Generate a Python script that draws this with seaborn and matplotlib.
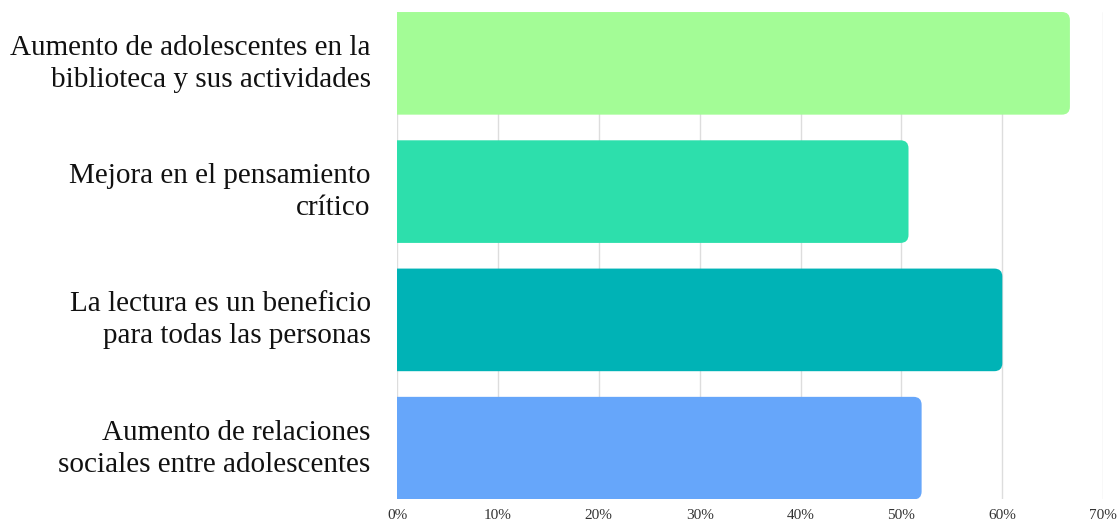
import matplotlib
matplotlib.use("Agg")
import matplotlib.pyplot as plt
import matplotlib.transforms as mtransforms
import seaborn as sns
import pandas as pd
from matplotlib.patches import FancyBboxPatch
from matplotlib.ticker import FuncFormatter

# data
categorias = [
    "Aumento de adolescentes en la\nbiblioteca y sus actividades",
    "Mejora en el pensamiento\ncrítico",
    "La lectura es un beneficio\npara todas las personas",
    "Aumento de relaciones\nsociales entre adolescentes",
]
porcentajes = [66.7, 50.7, 60.0, 52.0]
colores = ["#a3fc96", "#2ddfac", "#00b3b6", "#66a6fa"]
ticks = [0, 10, 20, 30, 40, 50, 60, 70]

df = pd.DataFrame({"categoria": categorias, "valor": porcentajes})

sns.set_style("white")
plt.rcParams["font.family"] = ["Liberation Serif", "DejaVu Serif"]

fig = plt.figure(figsize=(11.2, 5.23), dpi=100)
ax = fig.add_axes([0.3545, 0.045, 0.6305, 0.932])

sns.barplot(
    data=df, x="valor", y="categoria", hue="categoria",
    palette=colores, saturation=1, width=0.8, legend=False, ax=ax, zorder=2
)

# barras con esquinas redondeadas a la derecha
for bar in list(ax.patches):
    x0, y0 = bar.get_x(), bar.get_y()
    w, h = bar.get_width(), bar.get_height()
    color = bar.get_facecolor()
    bar.remove()
    fb = FancyBboxPatch(
        (x0 - 3, y0), w + 3, h,
        boxstyle="round,pad=0,rounding_size=0.8",
        mutation_aspect=0.062 / 0.8,
        facecolor=color, edgecolor="none", zorder=2,
    )
    ax.add_patch(fb)

ax.set_xlim(0, 70)
ax.set_ylim(3.4, -0.4)
ax.set_xticks(ticks)
ax.xaxis.set_major_formatter(FuncFormatter(lambda v, p: f"{v:.0f}%"))
ax.grid(axis="x", color="#dddddd", linewidth=1, zorder=0)
ax.set_axisbelow(True)
for s in ax.spines.values():
    s.set_visible(False)

ax.set_xlabel("")
ax.set_ylabel("")
ax.tick_params(axis="y", length=0, pad=19, labelsize=21, labelcolor="#111111")
ax.tick_params(axis="x", length=0, pad=7, labelsize=11, labelcolor="#333333")
offset = mtransforms.ScaledTranslation(0, 4 / 72, fig.dpi_scale_trans)
for lab in ax.get_yticklabels():
    lab.set_horizontalalignment("right")
    lab.set_multialignment("right")
    lab.set_linespacing(1.3)
    lab.set_transform(lab.get_transform() + offset)

fig.savefig("out.png", dpi=100)
